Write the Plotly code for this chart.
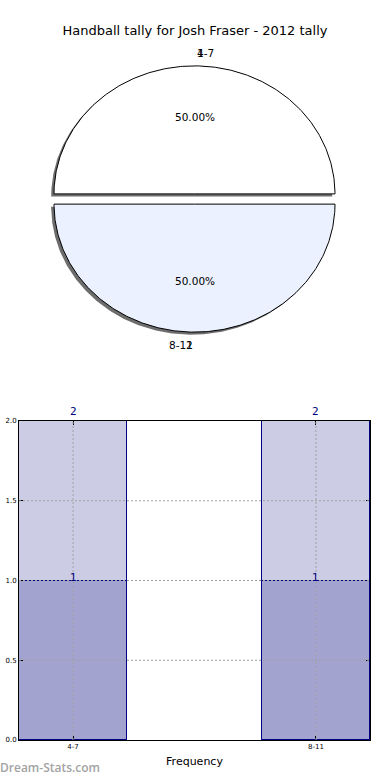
import numpy as np
import plotly.graph_objects as go

# ---------------- data ----------------
chart_title = "Handball tally for Josh Fraser - 2012 tally"
pie_labels = ["4-7", "8-11"]
pie_values = [2, 2]
pie_counts = ["1", "2"]
categories = ["4-7", "8-11"]
freq_total = [2, 2]
freq_lower = [1, 1]
y_ticks = [0.0, 0.5, 1.0, 1.5, 2.0]
watermark = "Dream-Stats.com"

# ---------------- style constants ----------------
FONT = "DejaVu Sans"
EXPLODE = 0.04
PCT_DIST = 0.6
LABEL_DIST = 1.1
SHADOW_DX, SHADOW_DY = -0.02, -0.02
SLICE_COLORS = ["#FFFFFF", "#EBF1FE"]
SHADOW_COLOR = "rgba(40,40,40,0.68)"
BAR_LIGHT = "#CCCCE5"
BAR_DARK = "#A3A3D0"
BAR_EDGE = "#000080"
GRID_COLOR = "#A0A0A0"
GRID_DASH = "2px,2px"
W, H = 390, 780

fig = go.Figure()

# ---------------- pie (drawn as filled ellipse wedges) ----------------
total = float(sum(pie_values))
start = 0.0
wedges = []
for i, v in enumerate(pie_values):
    frac = v / total
    t0, t1 = 2 * np.pi * start, 2 * np.pi * (start + frac)
    mid = 0.5 * (t0 + t1)
    ox, oy = EXPLODE * np.cos(mid), EXPLODE * np.sin(mid)
    th = np.linspace(t0, t1, 240)
    xs = np.concatenate([[0.0], np.cos(th), [0.0]]) + ox
    ys = np.concatenate([[0.0], np.sin(th), [0.0]]) + oy
    wedges.append((xs, ys, mid, ox, oy, frac, i))
    start += frac

for xs, ys, mid, ox, oy, frac, i in wedges:
    fig.add_trace(go.Scatter(x=xs + SHADOW_DX, y=ys + SHADOW_DY, mode="lines",
                             fill="toself", fillcolor=SHADOW_COLOR,
                             line=dict(width=0, color=SHADOW_COLOR),
                             xaxis="x2", yaxis="y2", hoverinfo="skip", showlegend=False))
for xs, ys, mid, ox, oy, frac, i in wedges:
    fig.add_trace(go.Scatter(x=xs, y=ys, mode="lines", fill="toself",
                             fillcolor=SLICE_COLORS[i % len(SLICE_COLORS)],
                             line=dict(width=1, color="black"),
                             xaxis="x2", yaxis="y2", hoverinfo="skip", showlegend=False))

annotations = []
for xs, ys, mid, ox, oy, frac, i in wedges:
    px_ = ox + PCT_DIST * np.cos(mid)
    py_ = oy + PCT_DIST * np.sin(mid)
    annotations.append(dict(x=px_, y=py_, xref="x2", yref="y2", text=f"{100*frac:.2f}%",
                            showarrow=False, xanchor="center", yanchor="middle",
                            font=dict(family=FONT, size=10.5, color="black")))
    lx = ox + LABEL_DIST * np.cos(mid)
    ly = oy + LABEL_DIST * np.sin(mid)
    anchor = "left" if lx > 0 else "right"
    for txt in (pie_labels[i], pie_counts[i]):
        annotations.append(dict(x=lx, y=ly, xref="x2", yref="y2", text=txt,
                                showarrow=False, xanchor=anchor, yanchor="middle",
                                font=dict(family=FONT, size=10.5, color="black")))

# ---------------- bars ----------------
xpos = list(range(len(categories)))
BAR_W = 0.445
fig.add_trace(go.Bar(x=xpos, y=freq_total, width=BAR_W, marker=dict(color=BAR_LIGHT,
                     line=dict(color=BAR_EDGE, width=1)), showlegend=False, hoverinfo="skip"))
fig.add_trace(go.Bar(x=xpos, y=freq_lower, width=BAR_W, marker=dict(color=BAR_DARK,
                     line=dict(color=BAR_EDGE, width=1)), showlegend=False, hoverinfo="skip"))
for xi, v in zip(xpos, freq_total):
    annotations.append(dict(x=xi, y=v, xref="x", yref="y", text=str(v), showarrow=False,
                            yanchor="bottom", yshift=2,
                            font=dict(family=FONT, size=10.5, color=BAR_EDGE)))
for xi, v in zip(xpos, freq_lower):
    annotations.append(dict(x=xi, y=v, xref="x", yref="y", text=str(v), showarrow=False,
                            yanchor="bottom", yshift=-4,
                            font=dict(family=FONT, size=10.5, color=BAR_EDGE)))

annotations.append(dict(x=-0.004, y=1 - 767 / H, xref="paper", yref="paper", text=watermark,
                        showarrow=False, xanchor="left", yanchor="middle",
                        font=dict(family="Open Sans", size=12, color="#A3A3A3", weight=600)))

# dotted grid drawn above the bars, at the tick positions
shapes = []
for xi in xpos:
    shapes.append(dict(type="line", xref="x", yref="y domain", x0=xi, x1=xi, y0=0, y1=1,
                       layer="above", line=dict(color=GRID_COLOR, width=1, dash=GRID_DASH)))
for yt in y_ticks[1:-1]:
    shapes.append(dict(type="line", xref="x domain", yref="y", x0=0, x1=1, y0=yt, y1=yt,
                       layer="above", line=dict(color=GRID_COLOR, width=1, dash=GRID_DASH)))

# pie axis geometry
cx_px, cy_px, rx_px, ry_px = 194.5, 199.0, 140.5, 128.0
pie_top_px, pie_bot_px = 40.0, 370.0

fig.update_layout(
    width=W, height=H, margin=dict(l=0, r=0, t=0, b=0),
    paper_bgcolor="white", plot_bgcolor="white",
    barmode="overlay", bargap=0,
    title=dict(text=chart_title, x=0.5, xanchor="center", y=1 - 30 / H, yanchor="middle",
               font=dict(family=FONT, size=13, color="black")),
    font=dict(family=FONT, color="black"),
    annotations=annotations,
    shapes=shapes,
    xaxis=dict(domain=[19 / W, 370 / W], range=[-BAR_W / 2, len(categories) - 1 + BAR_W / 2],
               tickvals=xpos, ticktext=categories, tickfont=dict(size=7, family=FONT),
               showgrid=False,
               showline=True, linecolor="black", linewidth=1, mirror="all",
               ticks="inside", ticklen=4, tickcolor="black", zeroline=False,
               layer="above traces", automargin=False,
               title=dict(text="Frequency", font=dict(size=11, family=FONT), standoff=6),
               fixedrange=True),
    yaxis=dict(domain=[1 - 740 / H, 1 - 421 / H], range=[0, 2], tickvals=y_ticks,
               tickformat=".1f", tickfont=dict(size=7, family=FONT),
               showgrid=False,
               showline=True, linecolor="black", linewidth=1, mirror="all",
               ticks="inside", ticklen=4, tickcolor="black", zeroline=False,
               layer="above traces", automargin=False, fixedrange=True),
    xaxis2=dict(domain=[0, 1], range=[-cx_px / rx_px, (W - cx_px) / rx_px], visible=False,
                anchor="y2", fixedrange=True),
    yaxis2=dict(domain=[1 - pie_bot_px / H, 1 - pie_top_px / H],
                range=[-(pie_bot_px - cy_px) / ry_px, (cy_px - pie_top_px) / ry_px],
                visible=False, anchor="x2", fixedrange=True),
)

fig.write_html("out.html")
